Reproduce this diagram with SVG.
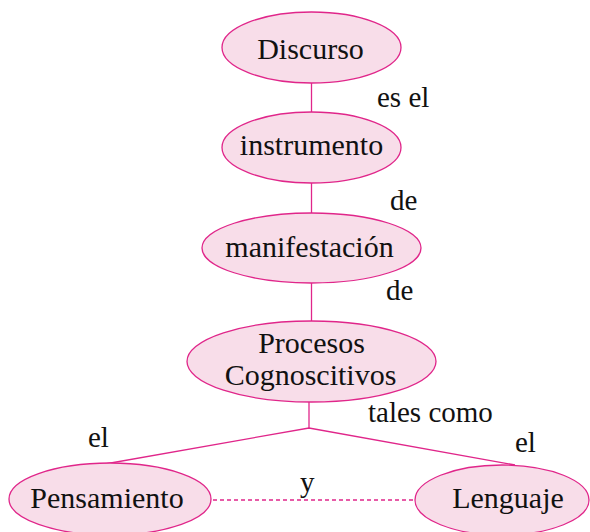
<svg xmlns="http://www.w3.org/2000/svg" width="590" height="532" viewBox="0 0 590 532">
<style>
.n{fill:#f8dde9;stroke:#e0268a;stroke-width:1.3}
.c{stroke:#e0268a;stroke-width:1.3;fill:none}
.d{stroke-dasharray:4 3}
text{font-family:"Liberation Serif","Times New Roman",serif;font-size:29px;fill:#111}
.m{text-anchor:middle;font-size:30px}
</style>
<rect width="590" height="532" fill="#fff"/>
<g id="connectors">
<line class="c" x1="311.5" y1="83" x2="311.5" y2="112"/>
<line class="c" x1="311.5" y1="183" x2="311.5" y2="213"/>
<line class="c" x1="311.5" y1="283" x2="311.5" y2="321"/>
<polyline class="c" points="105,464 309,428 515,465"/>
<line class="c" x1="309" y1="402" x2="309" y2="428"/>
<line class="c d" x1="213" y1="500" x2="415" y2="500"/>
<text x="377" y="107">es el</text>
<text x="390" y="210">de</text>
<text x="386" y="300">de</text>
<text x="368" y="422">tales como</text>
<text x="88" y="447">el</text>
<text x="515" y="452">el</text>
<text x="300" y="492">y</text>
</g>
<g id="discurso"><ellipse class="n" cx="311.5" cy="47.5" rx="89.5" ry="35.5"/><text class="m" x="310.5" y="59">Discurso</text></g>
<g id="instrumento"><ellipse class="n" cx="311.5" cy="147.5" rx="89.5" ry="35.5"/><text class="m" x="311.5" y="155">instrumento</text></g>
<g id="manifestacion"><ellipse class="n" cx="311.5" cy="248" rx="109.5" ry="35"/><text class="m" x="309.5" y="257">manifestación</text></g>
<g id="procesos"><ellipse class="n" cx="311.5" cy="361.5" rx="124.5" ry="40.5"/><text class="m" x="311.5" y="353">Procesos</text><text class="m" x="310.5" y="385">Cognoscitivos</text></g>
<g id="pensamiento"><ellipse class="n" cx="110" cy="499" rx="101" ry="36"/><text class="m" x="107" y="508">Pensamiento</text></g>
<g id="lenguaje"><ellipse class="n" cx="502" cy="500" rx="87" ry="35"/><text class="m" x="508" y="508">Lenguaje</text></g>
</svg>
